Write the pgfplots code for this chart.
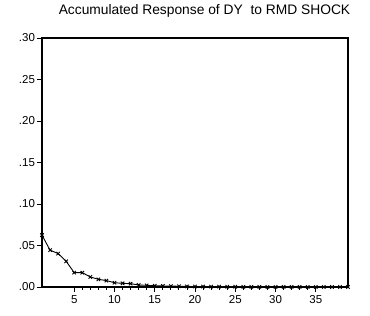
\documentclass[border=0pt]{standalone}
\usepackage{pgfplots}
\pgfplotsset{compat=1.18}
\usepackage{fontspec}
\setmainfont{Liberation Sans}
\begin{document}
\begin{tikzpicture}[x=1pt,y=1pt]
\begin{axis}[
  scale only axis, width=306pt, height=249pt,
  xmin=1, xmax=39, ymin=0, ymax=0.30,
  axis line style={line width=1.3pt},
  xtick={5,10,...,35}, minor x tick num=4,
  ytick={0,0.05,0.10,0.15,0.20,0.25,0.30},
  yticklabels={.00,.05,.10,.15,.20,.25,.30},
  tick align=outside, xtick pos=bottom, ytick pos=left,
  major tick length=5pt, minor tick length=3pt,
  tick style={black, line width=0.8pt},
  ticklabel style={font=\fontsize{11.5}{13}\selectfont},
  /pgf/number format/assume math mode=true,
  yticklabel style={xshift=1.5pt},
  clip=false,
]
\addplot[black, line width=0.9pt, mark=x, mark size=2.4pt, mark options={line width=0.9pt}] coordinates {
(1,0.0625)(2,0.0444)(3,0.0403)(4,0.0310)(5,0.0173)(6,0.0173)(7,0.0121)(8,0.0093)
(9,0.0077)(10,0.0052)(11,0.0044)(12,0.0040)(13,0.0024)(14,0.0020)(15,0.0016)
(16,0.0013)(17,0.0011)(18,0.0009)(19,0.0007)(20,0.0006)(21,0.0005)(22,0.0004)
(23,0.0004)(24,0.0003)(25,0.0003)(26,0.0002)(27,0.0002)(28,0.0002)(29,0.0001)
(30,0.0001)(31,0.0001)(32,0.0001)(33,0.0001)(34,0.0001)(35,0.0000)(36,0.0000)
(37,0.0000)(38,0.0000)(39,0.0000)
};
\end{axis}
\node[anchor=base, font=\fontsize{13.8}{16}\selectfont] at (162.5,272) {Accumulated Response of DY\ \ to RMD SHOCK};
\path[use as bounding box] (-42,-29) rectangle (328,287);
\end{tikzpicture}
\end{document}
